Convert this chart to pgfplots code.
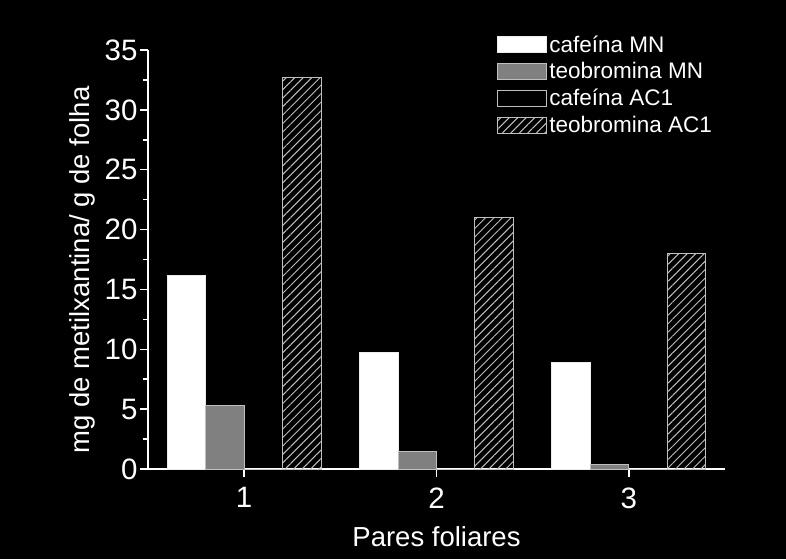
\documentclass[border=0pt]{standalone}
\usepackage{pgfplots}
\pgfplotsset{compat=1.18}
\usepackage{fontspec}
\setmainfont{Liberation Sans}
\usetikzlibrary{patterns.meta}
\begin{document}
\begin{tikzpicture}
\fill[black] (-148pt,-90pt) rectangle (638pt,469pt);
\begin{axis}[
  scale only axis, width=577pt, height=419pt,
  at={(0pt,0pt)}, anchor=south west,
  xmin=0.5, xmax=3.5, ymin=0, ymax=35,
  axis x line*=bottom, axis y line*=left,
  axis line style={white, line width=1.5pt, -},
  ytick={0,5,...,35}, minor y tick num=1,
  xtick={1,2,3},
  tick align=outside,
  major tick length=8pt, minor tick length=4.5pt,
  tick style={white, line width=1.5pt},
  tick label style={font=\fontsize{29.5}{34}\selectfont, text=white},
  yticklabel style={xshift=1pt},
  xticklabel style={yshift=-7pt},
  /pgf/number format/assume math mode=true,
  xlabel={Pares foliares}, ylabel={mg de metilxantina/ g de folha},
  label style={font=\fontsize{27.5}{32}\selectfont, text=white},
  xlabel style={at={(axis description cs:0.5,-0.162)}, anchor=center},
  ylabel style={at={(axis description cs:-0.114,0.475)}, anchor=center},
  ybar, bar width=0.2,
  legend image code/.code={\draw[#1] (0pt,-8pt) rectangle (49pt,8pt);},
  legend style={draw=none, fill=none, text=white, font=\fontsize{22.5}{26}\selectfont,
    at={(axis description cs:0.605,1.04)}, anchor=north west, inner sep=0pt,
    row sep=5pt},
  legend cell align=left,
]
\addplot[fill=white, draw=white!85!gray, line width=1pt, bar shift=-0.3]
  coordinates {(1,16.2) (2,9.7) (3,8.9)};
\addplot[fill=gray, draw=lightgray, line width=1pt, bar shift=-0.1]
  coordinates {(1,5.3) (2,1.5) (3,0.35)};
\addplot[fill=black, draw=lightgray, line width=1pt, bar shift=0.1]
  coordinates {(1,0) (2,0) (3,0)};
\addplot[draw=lightgray, line width=1pt, bar shift=0.3,
  pattern={Lines[angle=45,distance=6pt,line width=1pt]}, pattern color=lightgray]
  coordinates {(1,32.7) (2,21.0) (3,18.0)};
\legend{cafeína MN, teobromina MN, cafeína AC1, teobromina AC1}
\end{axis}
\end{tikzpicture}
\end{document}
